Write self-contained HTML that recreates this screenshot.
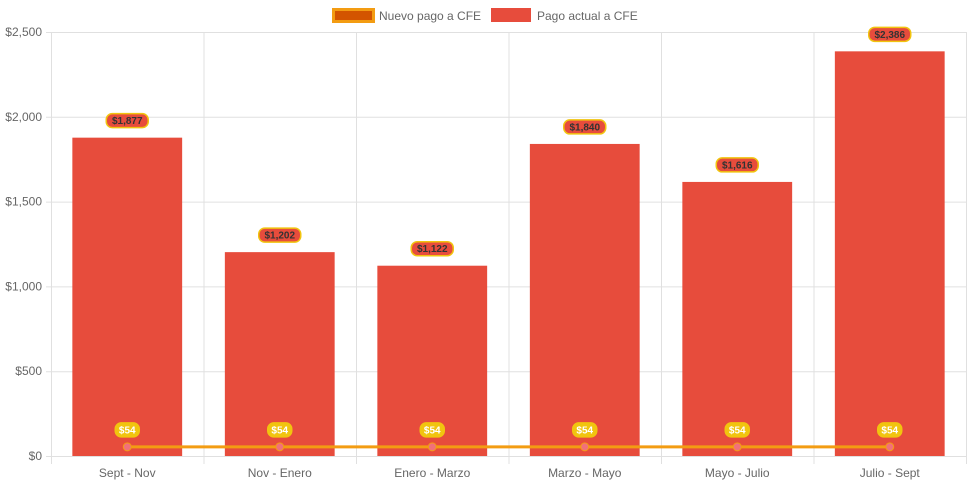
<!DOCTYPE html>
<html><head><meta charset="utf-8"><style>
body{margin:0;background:#fff}
svg{font-family:"Liberation Sans",Arial,sans-serif;display:block}
</style></head><body>
<svg id="c" width="971" height="485"></svg>
<script>
const categories=["Sept - Nov","Nov - Enero","Enero - Marzo","Marzo - Mayo","Mayo - Julio","Julio - Sept"];
const actual=[1877,1202,1122,1840,1616,2386];
const nuevo=[54,54,54,54,54,54];
const yTicks=[0,500,1000,1500,2000,2500];
const NS="http://www.w3.org/2000/svg";
const svg=document.getElementById('c');
const L=51,R=966,T=32,B=456,yMax=2500;
const cw=(R-L)/categories.length;
const y=v=>B-(v/yMax)*(B-T);
const xc=i=>L+cw*(i+0.5);
function el(t,a,p){const e=document.createElementNS(NS,t);for(const k in a)e.setAttribute(k,a[k]);(p||svg).appendChild(e);return e;}
const fmt=v=>'$'+v.toLocaleString('en-US');
// grid
yTicks.forEach(v=>{
 const g=el('line',{x1:L-5,x2:R,y1:y(v)+.5,y2:y(v)+.5,stroke:'#e0e0e0'});
 
 
 const t=el('text',{x:L-9,y:y(v)+4,'text-anchor':'end','font-size':12,fill:'#666'});
 t.textContent=fmt(v);
 
 
});
for(let i=0;i<=categories.length;i++){
 const g=el('line',{x1:L+cw*i+.5,x2:L+cw*i+.5,y1:T,y2:B+8,stroke:'#e0e0e0'});
 
 
}
const bw=cw*0.72;
categories.forEach((c,i)=>{
 const b=el('rect',{x:xc(i)-bw/2,y:y(actual[i]),width:bw,height:B-y(actual[i]),fill:'#e74c3c'});
 
 
 const t=el('text',{x:xc(i),y:B+21,'text-anchor':'middle','font-size':12,fill:'#666'});
 t.textContent=c;
 
 
});
// line
let d='';nuevo.forEach((v,i)=>{d+=(i?'L':'M')+xc(i)+' '+y(v);});
const ln=el('path',{d:d,stroke:'#f39c12','stroke-width':3,fill:'none'});


nuevo.forEach((v,i)=>{
 const p=el('circle',{cx:xc(i),cy:y(v),r:4,fill:'#f1707a',stroke:'#f39c12','stroke-width':1});
 
 
});
// labels
function label(cx,cy,txt,fill,stroke,col,name){
 const w=txt.length*6+6;
 const r=el('rect',{x:cx-w/2,y:cy-7,width:w,height:14,rx:6,fill:fill,stroke:stroke,'stroke-width':1.5});
 
 
 const t=el('text',{x:cx,y:cy+3.5,'text-anchor':'middle','font-size':10,'font-weight':'bold',fill:col});
 t.textContent=txt;
 
 
}
actual.forEach((v,i)=>label(xc(i),y(v)-17,fmt(v),'#e74c3c','#f1c40f','#333','actual-value-label'));
nuevo.forEach((v,i)=>label(xc(i),y(v)-17,fmt(v),'#f1c40f','#f1c40f','#fff','nuevo-value-label'));
// legend
const lg=el('g',{});


const s1=el('rect',{x:333.5,y:9.5,width:40,height:12,fill:'#d35400',stroke:'#f39c12','stroke-width':3},lg);


const t1=el('text',{x:379,y:20,'font-size':12,fill:'#666'},lg);t1.textContent='Nuevo pago a CFE';


const s2=el('rect',{x:491,y:8,width:40,height:14,fill:'#e74c3c'},lg);


const t2=el('text',{x:537,y:20,'font-size':12,fill:'#666'},lg);t2.textContent='Pago actual a CFE';


</script>
</body></html>
